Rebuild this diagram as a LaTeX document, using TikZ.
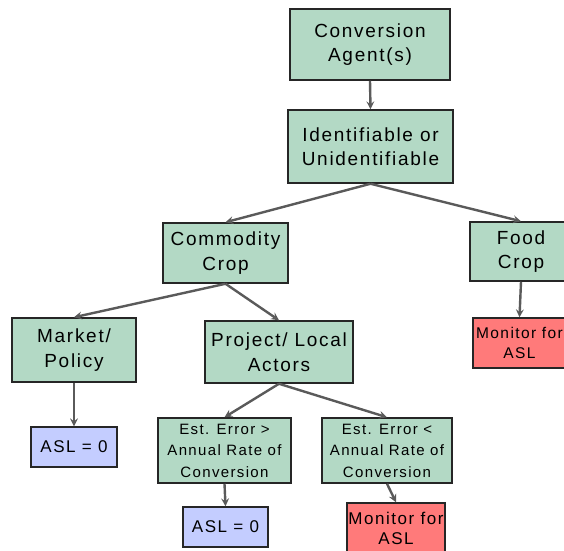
\documentclass[tikz,border=0pt]{standalone}
\usepackage{fontspec}
\setmainfont{Liberation Sans}[LetterSpace=9]
\definecolor{boxgreen}{RGB}{179,217,197}
\definecolor{boxblue}{RGB}{196,205,255}
\definecolor{boxred}{RGB}{255,122,122}
\definecolor{arrowgray}{RGB}{90,90,90}
\begin{document}
\begin{tikzpicture}[x=1pt,y=-1pt,>=stealth,
  box/.style={draw=black!85,line width=1.5pt,align=center,inner sep=0pt},
  greenbox/.style={box,fill=boxgreen},
  bluebox/.style={box,fill=boxblue},
  redbox/.style={box,fill=boxred},
  big/.style={font=\fontsize{19}{24.5}\selectfont},
  small/.style={font=\fontsize{15}{21.5}\selectfont},
  mid/.style={font=\fontsize{17}{20}\selectfont},
  link/.style={->,draw=arrowgray,line width=2.4pt}]
\useasboundingbox (0,0) rectangle (564,550);
\node[greenbox,big,minimum width=160pt,minimum height=71pt](agent) at (370,44.5){Conversion\\Agent(s)};
\node[greenbox,big,minimum width=165pt,minimum height=73pt](ident) at (370.5,146.5){Identifiable or\\Unidentifiable};
\node[greenbox,big,minimum width=125pt,minimum height=60pt](commod) at (225.5,253){Commodity\\Crop};
\node[greenbox,big,minimum width=102pt,minimum height=59pt](food) at (521,251.5){Food\\Crop};
\node[redbox,font=\fontsize{15.5}{20}\selectfont,minimum width=93pt,minimum height=50pt](monfood) at (519.5,343){Monitor for\\ASL};
\node[greenbox,big,minimum width=124pt,minimum height=64pt](market) at (74,350){Market/\\Policy};
\node[greenbox,big,minimum width=148pt,minimum height=62pt](project) at (279,352){Project/ Local\\Actors};
\node[bluebox,mid,minimum width=86pt,minimum height=40pt](aslmarket) at (74,447){ASL = 0};
\node[greenbox,small,minimum width=133pt,minimum height=65pt](errhigh) at (224.5,450.5){Est. Error >\\Annual Rate of\\Conversion};
\node[greenbox,small,minimum width=130pt,minimum height=65pt](errlow) at (387,450.5){Est. Error <\\Annual Rate of\\Conversion};
\node[bluebox,mid,minimum width=85pt,minimum height=40pt](aslhigh) at (225.5,527){ASL = 0};
\node[redbox,mid,minimum width=98pt,minimum height=50pt](monlow) at (396,528){Monitor for\\ASL};
\draw[link] (agent.south) -- (ident.north);
\draw[link] (ident.south) -- (commod.north);
\draw[link] (ident.south) -- (food.north);
\draw[link] (commod.south) -- (market.north);
\draw[link] (commod.south) -- (project.north);
\draw[link] (food.south) -- (monfood.north);
\draw[link] (market.south) -- (aslmarket.north);
\draw[link] (project.south) -- (errhigh.north);
\draw[link] (project.south) -- (errlow.north);
\draw[link] (errhigh.south) -- (aslhigh.north);
\draw[link] (errlow.south) -- (monlow.north);
\end{tikzpicture}
\end{document}
